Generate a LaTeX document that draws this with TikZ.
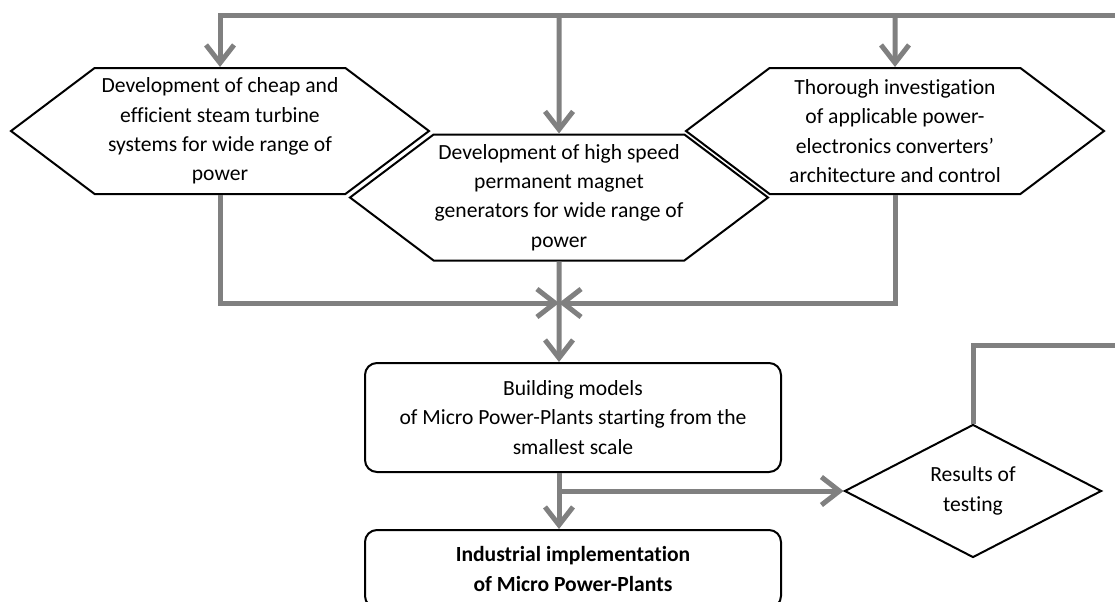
\documentclass[tikz,border=0pt]{standalone}
\usepackage{fontspec}
\setmainfont{Carlito}[Ligatures=NoCommon]
\usetikzlibrary{arrows.meta,shapes.symbols,shapes.geometric}
\definecolor{flowgray}{RGB}{128,128,128}
\newcommand\boxfont{\fontsize{10.8}{14.7}\selectfont}
\tikzset{%
  hexbox/.style={shape=signal, signal to=east and west, signal pointer angle=74,
    draw, fill=white, line width=1pt, minimum width=209pt, minimum height=63pt,
    inner sep=0pt, align=center, font=\boxfont},
  roundbox/.style={draw, line width=1pt, rounded corners=6pt, minimum width=208pt,
    inner sep=0pt, align=center, font=\boxfont},
  testbox/.style={diamond, draw, line width=1pt, minimum width=128.5pt,
    minimum height=66.5pt, aspect=1.93, inner sep=0pt, align=center, font=\boxfont},
  link/.style={draw=flowgray, line width=2.5pt},
  flow/.style={link, -{Straight Barb[length=9pt,width=14pt]}}
}
\begin{document}
\begin{tikzpicture}[x=0.5pt,y=-0.5pt]%
\useasboundingbox (0,0) rectangle (1115,601);
% the three development tasks
\node[hexbox] (turb) at (220,131) {Development of cheap and\\efficient steam turbine\\systems for wide range of\\power};
\node[hexbox] (gen) at (559,197.5) {Development of high speed\\permanent magnet\\generators for wide range of\\power};
\node[hexbox] (conv) at (895,131) {Thorough investigation\\of applicable power-\\electronics converters'\\architecture and control};
% models, implementation and testing
\node[roundbox, minimum height=54.5pt] (model) at (573,417.5) {Building models\\of Micro Power-Plants starting from the\\smallest scale};
\node[roundbox, minimum height=39pt, font=\boxfont\bfseries] (ind) at (573,569) {Industrial implementation\\of Micro Power-Plants};
\node[testbox] (test) at (973,491) {Results of\\testing};
% connectors
\coordinate (feed) at (1125,15);
\coordinate (merge) at (559,303);
\coordinate (split) at (559,491);
\coordinate (back) at (1125,345);
\draw[flow] (feed) -| (turb);
\draw[flow] (gen |- feed) -- (gen);
\draw[flow] (conv |- feed) -- (conv);
\draw[flow] (turb) |- (merge);
\draw[flow] (conv) |- (merge);
\draw[flow] (gen) -- (gen |- model.north);
\draw[flow] (gen |- model.south) -- (gen |- ind.north);
\draw[flow] (split) -- (test);
\draw[link] (test) |- (back);
\end{tikzpicture}
\end{document}
